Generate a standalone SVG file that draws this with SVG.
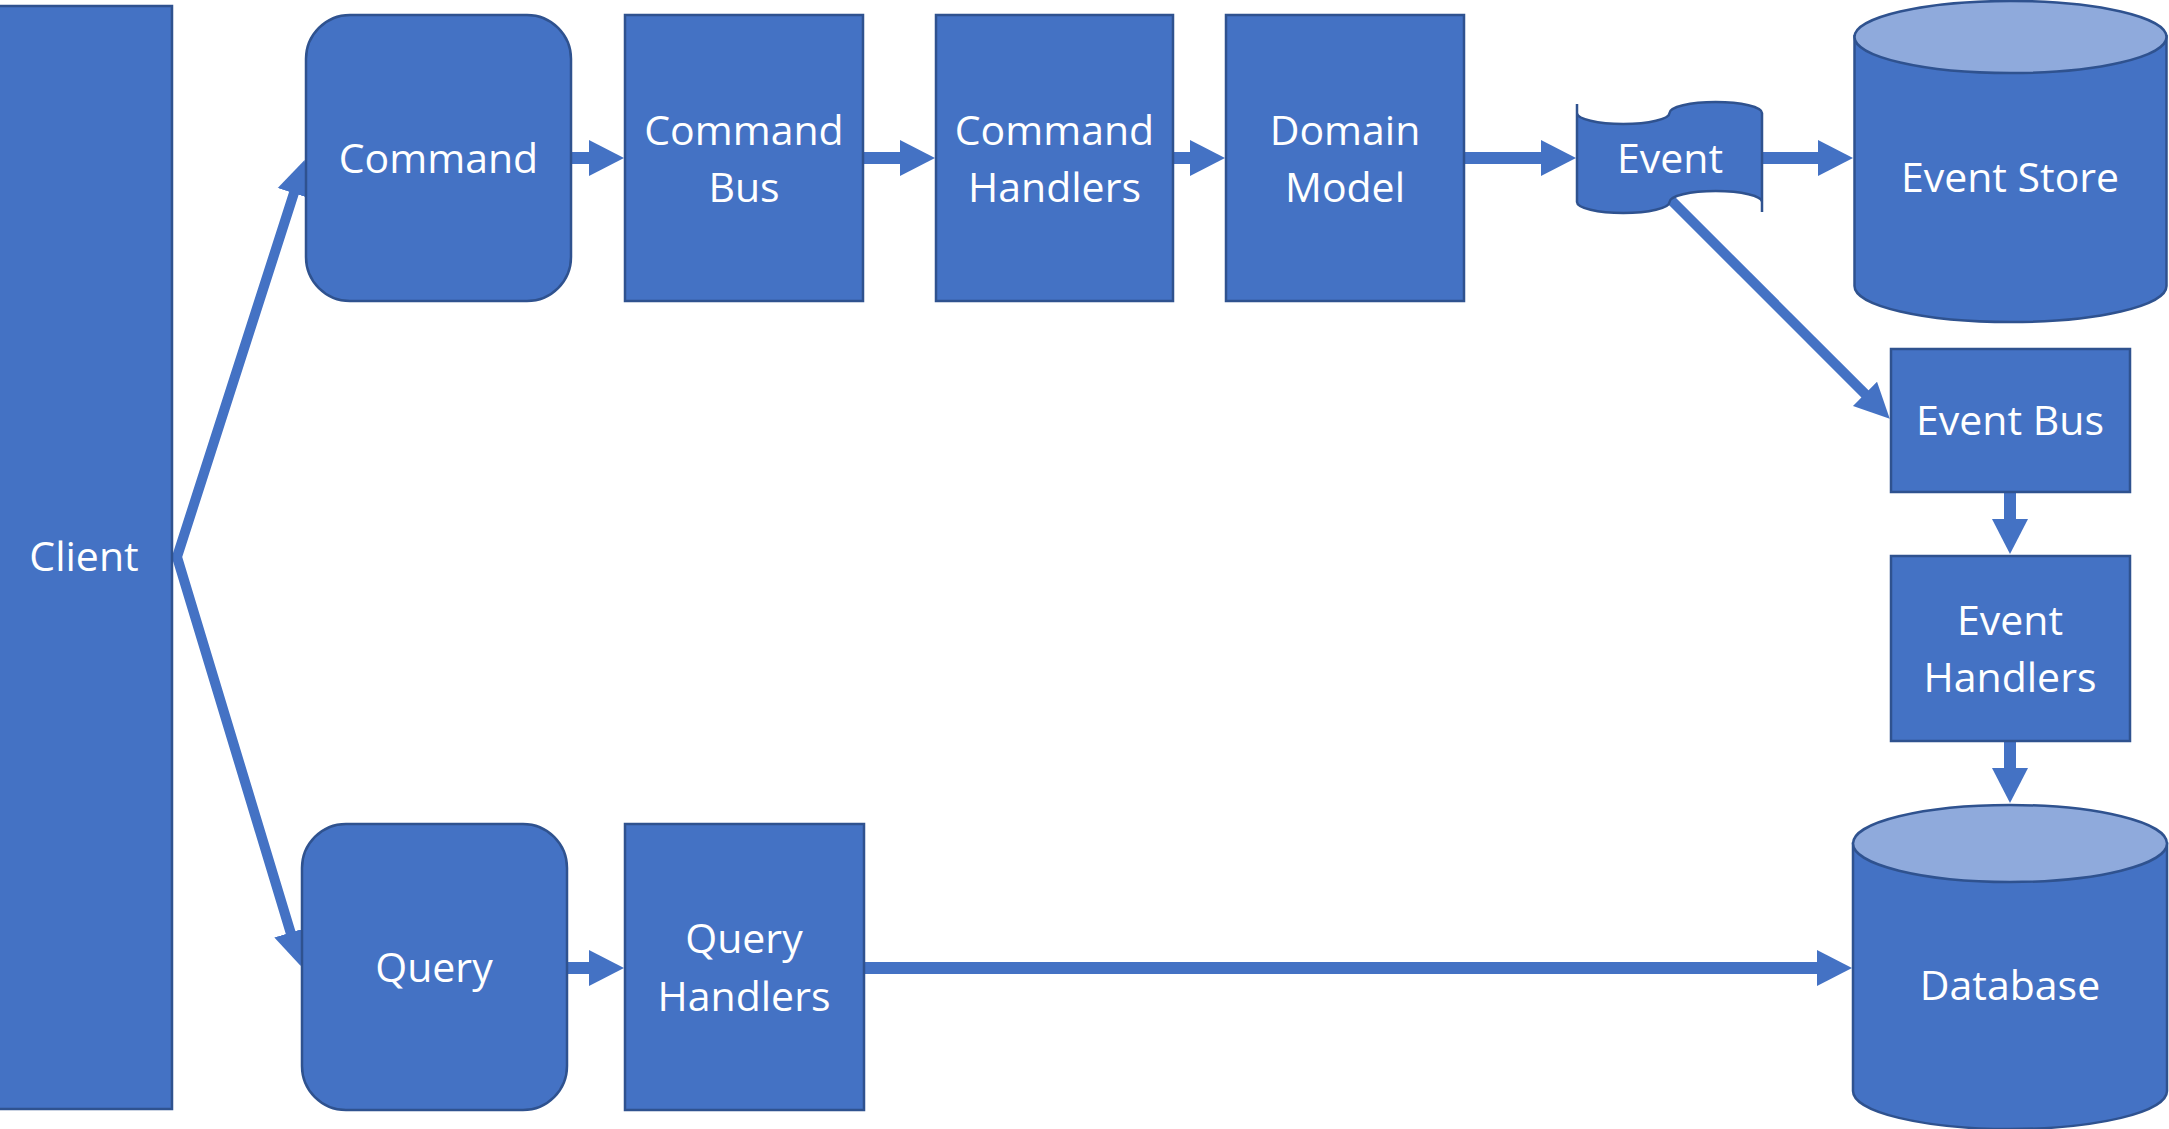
<svg xmlns="http://www.w3.org/2000/svg" width="2169" height="1129" viewBox="0 0 2169 1129">
<style>
.n{fill:#4472C4;stroke:#2F528F;stroke-width:2.5}
.top{fill:#8FAADC;stroke:#2F528F;stroke-width:2.5}
.t{font-family:"Open Sans","Noto Sans","Liberation Sans",sans-serif;font-size:41px;fill:#FFFFFF;text-anchor:middle}
.c{fill:none;stroke:#4472C4;stroke-width:12;stroke-linejoin:miter;stroke-miterlimit:20}
.d{fill:none;stroke:#4472C4;stroke-width:10;stroke-linejoin:miter;stroke-miterlimit:20}
</style>
<defs>
<marker id="head" markerUnits="userSpaceOnUse" markerWidth="40" markerHeight="40" viewBox="0 -20 40 40" refX="1" refY="0" orient="auto-start-reverse">
<path d="M0,-18 L35,0 L0,18 Z" fill="#4472C4"/>
</marker>
<marker id="headS" markerUnits="userSpaceOnUse" markerWidth="40" markerHeight="40" viewBox="0 -20 40 40" refX="1" refY="0" orient="auto-start-reverse">
<path d="M0,-17 L35,0 L0,17 Z" fill="#4472C4"/>
</marker>
</defs>
<rect width="2169" height="1129" fill="#FFFFFF"/>
<g id="connectors">
<path class="d" d="M294.2,192.3 L177,557 L290.9,933.5" marker-start="url(#headS)" marker-end="url(#headS)"/>
<path class="c" d="M569,158 L590,158" marker-end="url(#head)"/>
<path class="c" d="M862,158 L901,158" marker-end="url(#head)"/>
<path class="c" d="M1172,158 L1191,158" marker-end="url(#head)"/>
<path class="c" d="M1462,158 L1542,158" marker-end="url(#head)"/>
<path class="c" d="M1761,158 L1819,158" marker-end="url(#head)"/>
<path class="d" d="M1668,197 L1865.7,394.6" marker-end="url(#headS)"/>
<path class="c" d="M2010,490 L2010,520" marker-end="url(#head)"/>
<path class="c" d="M2010,739 L2010,769" marker-end="url(#head)"/>
<path class="c" d="M565,968 L590,968" marker-end="url(#head)"/>
<path class="c" d="M862,968 L1818,968" marker-end="url(#head)"/>
</g>
<g id="client">
<rect class="n" x="-3" y="6" width="175" height="1103"/>
<text class="t" x="84" y="571">Client</text>
</g>
<g id="command">
<rect class="n" x="306" y="15" width="265" height="286" rx="44" ry="44"/>
<text class="t" x="438.5" y="173">Command</text>
</g>
<g id="command-bus">
<rect class="n" x="625" y="15" width="238" height="286"/>
<text class="t" x="744" y="145">Command</text>
<text class="t" x="744" y="202">Bus</text>
</g>
<g id="command-handlers">
<rect class="n" x="936" y="15" width="237" height="286"/>
<text class="t" x="1054.5" y="145">Command</text>
<text class="t" x="1054.5" y="202">Handlers</text>
</g>
<g id="domain-model">
<rect class="n" x="1226" y="15" width="238" height="286"/>
<text class="t" x="1345" y="145">Domain</text>
<text class="t" x="1345" y="202">Model</text>
</g>
<g id="event">
<path class="n" d="M1577,104 L1577,113 A46.25,11 0 0 0 1669.5,113 A46.25,11 0 0 1 1762,113 L1762,212 L1762,202 A46.25,11 0 0 0 1669.5,202 A46.25,11 0 0 1 1577,202 Z"/>
<text class="t" x="1670" y="173">Event</text>
</g>
<g id="event-store">
<path class="n" d="M1854.5,36 L1854.5,286 A156,36 0 0 0 2166.5,286 L2166.5,36 Z"/>
<ellipse class="top" cx="2010.5" cy="37" rx="156" ry="36"/>
<text class="t" x="2010" y="192">Event Store</text>
</g>
<g id="event-bus">
<rect class="n" x="1891" y="349" width="239" height="143"/>
<text class="t" x="2010" y="435">Event Bus</text>
</g>
<g id="event-handlers">
<rect class="n" x="1891" y="556" width="239" height="185"/>
<text class="t" x="2010" y="635">Event</text>
<text class="t" x="2010" y="692">Handlers</text>
</g>
<g id="database">
<path class="n" d="M1853,843.5 L1853,1091 A157,38 0 0 0 2167,1091 L2167,843.5 Z"/>
<ellipse class="top" cx="2010" cy="843.5" rx="157" ry="38.5"/>
<text class="t" x="2010" y="1000">Database</text>
</g>
<g id="query">
<rect class="n" x="302" y="824" width="265" height="286" rx="44" ry="44"/>
<text class="t" x="434" y="982">Query</text>
</g>
<g id="query-handlers">
<rect class="n" x="625" y="824" width="239" height="286"/>
<text class="t" x="744" y="953">Query</text>
<text class="t" x="744" y="1011">Handlers</text>
</g>
</svg>
